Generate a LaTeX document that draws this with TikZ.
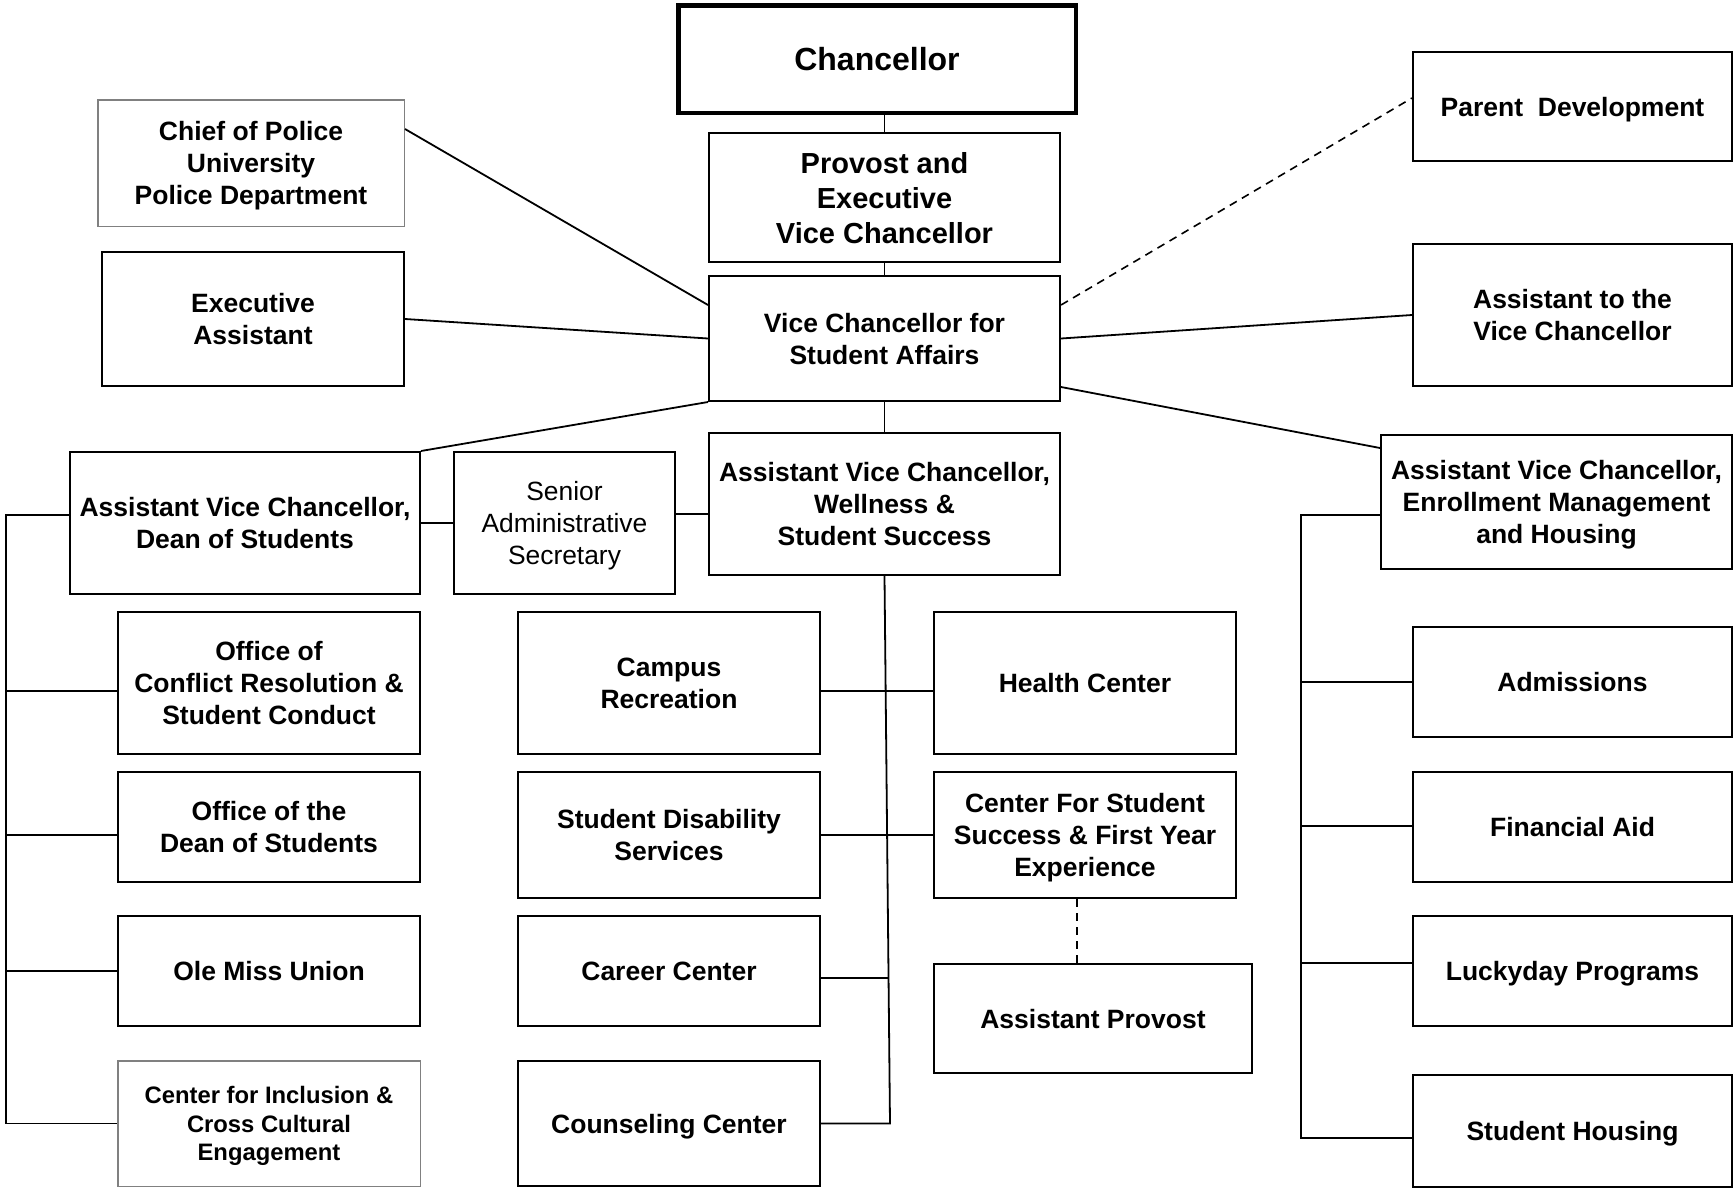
\documentclass[tikz,border=0pt]{standalone}
\usepackage{fontspec}
\setmainfont{Liberation Sans}
\usepackage{tikz}
\usetikzlibrary{positioning}
\usetikzlibrary{calc}
\tikzset{
	orgbox/.style={rectangle, draw, line width=2pt, inner sep=0pt, text depth=0pt, align=center, font=\fontsize{26.5}{32}\selectfont\bfseries},
	headbox/.style={orgbox, line width=4.5pt, font=\fontsize{32}{38}\selectfont\bfseries},
	graybox/.style={orgbox, draw=black!50, line width=1.5pt},
	dims/.style 2 args={minimum width=#1pt, minimum height=#2pt},
	link/.style={line width=1.8pt},
	loose/.style={line width=1.6pt, dash pattern=on 8pt off 6pt}
}

\begin{document}
\begin{tikzpicture}[x=1pt, y=-1pt]
	\useasboundingbox (0,0) rectangle (1733,1189);
	% top of the chart
	\node[headbox, dims={397.5}{107.5}] (chanc) at (877,59) {Chancellor};
	\node[orgbox, dims={351}{129}, font=\fontsize{29}{35}\selectfont\bfseries] (prov) at (884.5,197.5) {Provost and\\Executive\\Vice Chancellor};
	\node[orgbox, dims={351}{125}] (vcsa) at (884.5,338.5) {Vice Chancellor for\\Student Affairs};
	\node[graybox, dims={306.5}{126.5}] (police) at (251,163) {Chief of Police\\University\\Police Department};
	\node[orgbox, dims={302}{134}] (exec) at (253,319) {Executive\\Assistant};
	\node[orgbox, dims={319}{109}] (parent) at (1572.5,106.5) {Parent~ Development};
	\node[orgbox, dims={319}{142}] (asstvc) at (1572.5,315) {Assistant to the\\Vice Chancellor};
	% second level
	\node[orgbox, dims={350}{142}] (avcdean) at (245,523) {Assistant Vice Chancellor,\\Dean of Students};
	\node[orgbox, dims={221}{142}, font=\fontsize{26.4}{32}\selectfont] (secr) at (564.5,523) {Senior\\Administrative\\Secretary};
	\node[orgbox, dims={351}{142}] (avcwell) at (884.5,504) {Assistant Vice Chancellor,\\Wellness \&\\Student Success};
	\node[orgbox, dims={351}{134}] (avcenr) at (1556.5,502) {Assistant Vice Chancellor,\\Enrollment Management\\and Housing};
	% dean of students units
	\node[orgbox, dims={302}{142}] (conflict) at (269,683) {Office of\\Conflict Resolution \&\\Student Conduct};
	\node[orgbox, dims={302}{110}] (deanoff) at (269,827) {Office of the\\Dean of Students};
	\node[orgbox, dims={302}{110}] (union) at (269,971) {Ole Miss Union};
	\node[graybox, dims={302.5}{125.5}, font=\fontsize{23.8}{28.7}\selectfont\bfseries] (incl) at (269,1123.5) {Center for Inclusion \&\\Cross Cultural\\Engagement};
	% wellness units
	\node[orgbox, dims={302}{142}] (camprec) at (669,683) {Campus\\Recreation};
	\node[orgbox, dims={302}{126}] (disab) at (669,835) {Student Disability\\Services};
	\node[orgbox, dims={302}{110}] (career) at (669,971) {Career Center};
	\node[orgbox, dims={302}{125}] (couns) at (669,1123.5) {Counseling Center};
	\node[orgbox, dims={302}{142}] (health) at (1085,683) {Health Center};
	\node[orgbox, dims={302}{126}] (success) at (1085,835) {Center For Student\\Success \& First Year\\Experience};
	\node[orgbox, dims={318}{109}] (provasst) at (1093,1018.5) {Assistant Provost};
	% enrollment units
	\node[orgbox, dims={319}{110}] (admis) at (1572.5,682) {Admissions};
	\node[orgbox, dims={319}{110}] (finaid) at (1572.5,827) {Financial Aid};
	\node[orgbox, dims={319}{110}] (lucky) at (1572.5,971) {Luckyday Programs};
	\node[orgbox, dims={319}{112}] (housing) at (1572.5,1131) {Student Housing};

	\coordinate (lbus) at (6,515);
	\coordinate (lend) at (6,1123.5);
	\coordinate (wend) at (890,1123.5);
	\coordinate (rbus) at (1301,515);
	\coordinate (rend) at (1301,1138);

	\draw[link] (prov.north) -- (prov.north |- chanc.south);
	\path[link] (prov) edge (vcsa);
	\draw[link] ([yshift=-30pt]police.north east) -- ([yshift=-30pt]vcsa.north west);
	\path[link] (exec.east) edge (vcsa.west);
	\draw[loose] ([yshift=-30pt]vcsa.north east) -- ([yshift=-47pt]parent.north west);
	\path[link] (vcsa.east) edge (asstvc.west);
	\draw[link] ([yshift=15pt]vcsa.south east) -- ([yshift=-14pt]avcenr.north west);
	\path[link] (vcsa.south west) edge (avcdean.north east);
	\path[link] (vcsa.south) edge (avcwell.north);
	\path[link] (avcdean.east) edge (secr.west);
	\draw[link] ([yshift=9pt]secr.east) -- ([yshift=-10pt]avcwell.west);

	\draw[link] ([yshift=8pt]avcdean.west) -- (lbus) -- (lend) -- (incl.west);
	\draw[link] ([yshift=-8pt]conflict.west) -| (lbus);
	\draw[link] ([yshift=-8pt]deanoff.west) -| (lbus);
	\draw[link] (union.west) -| (lbus);

	\draw[link] (avcwell.south) -- (wend) -- (couns.east);
	\draw[link] ([yshift=-8pt]camprec.east) -- ([yshift=-8pt]health.west);
	\path[link] (disab.east) edge (success.west);
	\draw[link] ([yshift=-7pt]career.east) -- ++(68,0);
	\draw[loose] ([xshift=-8pt]success.south) -- ([xshift=-8pt]success.south |- provasst.north);

	\draw[link] ([yshift=-13pt]avcenr.west) -- (rbus) -- (rend) -- ([yshift=-7pt]housing.west);
	\draw[link] (admis.west) -| (rbus);
	\draw[link] ([yshift=1pt]finaid.west) -| (rbus);
	\draw[link] ([yshift=8pt]lucky.west) -| (rbus);
\end{tikzpicture}
\end{document}
